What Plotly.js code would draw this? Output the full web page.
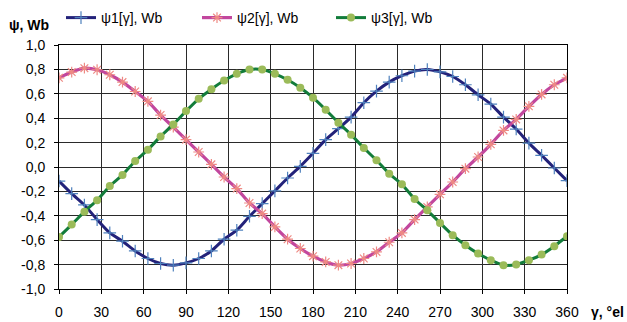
<!DOCTYPE html>
<html>
<head>
<meta charset="utf-8">
<script src="https://cdn.plot.ly/plotly-3.0.1.min.js"></script>
<style>html,body{margin:0;padding:0;background:#fff;}#chart{width:627px;height:322px;}</style>
</head>
<body>
<div id="chart"></div>
<script>
const gamma = [0,9,18,27,36,45,54,63,72,81,90,99,108,117,126,135,144,153,162,171,180,189,198,207,216,225,234,243,252,261,270,279,288,297,306,315,324,333,342,351,360];
const psi1 = [-0.115,-0.218,-0.311,-0.431,-0.540,-0.608,-0.688,-0.750,-0.791,-0.805,-0.786,-0.750,-0.688,-0.592,-0.518,-0.404,-0.300,-0.196,-0.090,0.005,0.112,0.224,0.314,0.409,0.527,0.622,0.696,0.748,0.786,0.799,0.780,0.742,0.674,0.592,0.516,0.409,0.311,0.196,0.096,-0.008,-0.112];
const psi2 = [0.731,0.778,0.810,0.797,0.756,0.696,0.619,0.538,0.426,0.327,0.224,0.123,0.022,-0.082,-0.177,-0.295,-0.382,-0.491,-0.592,-0.668,-0.731,-0.778,-0.805,-0.791,-0.750,-0.696,-0.617,-0.540,-0.431,-0.327,-0.224,-0.123,-0.014,0.082,0.186,0.300,0.390,0.497,0.595,0.674,0.731];
const psi3 = [-0.573,-0.472,-0.366,-0.273,-0.156,-0.065,0.049,0.142,0.251,0.349,0.458,0.559,0.638,0.709,0.764,0.799,0.799,0.764,0.715,0.649,0.568,0.469,0.363,0.265,0.156,0.055,-0.055,-0.142,-0.262,-0.355,-0.458,-0.559,-0.641,-0.709,-0.764,-0.805,-0.799,-0.764,-0.718,-0.649,-0.568];
const seriesNames = ["ψ1[γ], Wb","ψ2[γ], Wb","ψ3[γ], Wb"];
const xTickVals = [0,30,60,90,120,150,180,210,240,270,300,330,360];
const yTickVals = [-1,-0.8,-0.6,-0.4,-0.2,0,0.2,0.4,0.6,0.8,1];
const yTickText = ["-1,0","-0,8","-0,6","-0,4","-0,2","0,0","0,2","0,4","0,6","0,8","1,0"];
const yTitle = "ψ, Wb";
const xTitle = "γ, °el";

const FONT = "Liberation Sans, Arial, sans-serif";
const FS = 14;
const traces = [
  {x: gamma, y: psi1, name: seriesNames[0], type: "scatter", mode: "lines+markers", legend: "legend",
   line: {color: "#23227A", width: 3, shape: "spline", smoothing: 0.6},
   marker: {symbol: "cross-thin-open", size: 9, color: "#4F81BD", line: {color: "#4F81BD", width: 1.2}}},
  {x: gamma, y: psi2, name: seriesNames[1], type: "scatter", mode: "lines+markers", legend: "legend2",
   line: {color: "#C2479E", width: 3.2, shape: "spline", smoothing: 0.6},
   marker: {symbol: "asterisk-open", size: 9, color: "#EE8A84", line: {color: "#EE8A84", width: 1.2}}},
  {x: gamma, y: psi3, name: seriesNames[2], type: "scatter", mode: "lines+markers", legend: "legend3",
   line: {color: "#127C3A", width: 3, shape: "spline", smoothing: 0.6},
   marker: {symbol: "circle", size: 8, color: "#9BBB59", line: {width: 0}}}
];
function leg(px) {
  return {x: px/627, xref: "container", xanchor: "left", y: 1 - 18/322, yref: "container", yanchor: "middle",
          orientation: "h", bgcolor: "rgba(0,0,0,0)", borderwidth: 0,
          font: {family: FONT, size: FS, color: "#000"}};
}
const PL = 59, PR = 567, PT = 45, PB = 289;
const W = PR - PL, H = PB - PT;
const layout = {
  width: 627, height: 322,
  margin: {l: PL, r: 627 - PR, t: PT, b: 322 - PB, pad: 0},
  paper_bgcolor: "#fff", plot_bgcolor: "#fff",
  font: {family: FONT, size: FS, color: "#000"},
  showlegend: true,
  legend: leg(61), legend2: leg(197), legend3: leg(331),
  xaxis: {range: [0, 360], tickvals: xTickVals, showgrid: true, gridcolor: "#2a2a2a", gridwidth: 1,
          showline: true, linecolor: "#000", linewidth: 1, mirror: true, zeroline: false,
          ticks: "outside", ticklen: 4, tickcolor: "#000", ticklabelstandoff: 6,
          tickfont: {family: FONT, size: FS, color: "#000"}},
  yaxis: {range: [-1, 1], tickvals: yTickVals, ticktext: yTickText, showgrid: true, gridcolor: "#2a2a2a", gridwidth: 1,
          showline: true, linecolor: "#000", linewidth: 1, mirror: true, zeroline: false,
          ticks: "outside", ticklen: 4, tickcolor: "#000", ticklabelstandoff: 6,
          tickfont: {family: FONT, size: FS, color: "#000"}},
  annotations: [
    {text: "<b>" + yTitle + "</b>", xref: "paper", yref: "paper", x: (7 - PL)/W, y: (PB - 25)/H,
     xanchor: "left", yanchor: "middle", showarrow: false, font: {family: FONT, size: FS, color: "#000"}},
    {text: "<b>" + xTitle + "</b>", xref: "paper", yref: "paper", x: (626 - PL)/W, y: (PB - 312)/H,
     xanchor: "right", yanchor: "middle", showarrow: false, font: {family: FONT, size: FS, color: "#000"}}
  ]
};
Plotly.newPlot("chart", traces, layout, {displayModeBar: false, staticPlot: true});
</script>
</body>
</html>
